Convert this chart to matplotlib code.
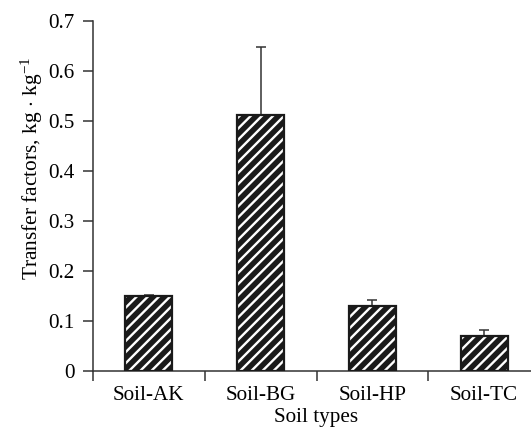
import numpy as np
import matplotlib
matplotlib.use("Agg")
from matplotlib import pyplot as plt
from matplotlib.ticker import FixedLocator, NullFormatter

soils = ["Soil-AK", "Soil-BG", "Soil-HP", "Soil-TC"]
tf_mean = [0.149, 0.512, 0.129, 0.070]
tf_err = [0.003, 0.135, 0.012, 0.012]
yticks = [0, 0.1, 0.2, 0.3, 0.4, 0.5, 0.6, 0.7]
ytick_labels = ["0", "0.1", "0.2", "0.3", "0.4", "0.5", "0.6", "0.7"]

plt.rcParams['font.family'] = ['Liberation Serif', 'DejaVu Serif']
plt.rcParams['mathtext.fontset'] = 'custom'
plt.rcParams['mathtext.rm'] = 'Liberation Serif'
plt.rcParams['mathtext.it'] = 'Liberation Serif:italic'
plt.rcParams['hatch.linewidth'] = 1.7

fig = plt.figure(figsize=(5.31, 4.28), dpi=100)
ax = fig.add_axes([93 / 531, 57.3 / 428, 447 / 531, 350 / 428])

x = np.arange(len(soils))
# black bars with white stripes, then a black outline on top
ax.bar(x, tf_mean, width=0.42, color="#1a1a1a", edgecolor="white",
       hatch="///", linewidth=0, zorder=2)
ax.bar(x, tf_mean, width=0.42, fill=False, edgecolor="#1a1a1a",
       linewidth=1.6, zorder=3)
ax.errorbar(x, tf_mean, yerr=[np.zeros(len(soils)), tf_err], fmt="none",
            ecolor="#333333", elinewidth=1.1, capsize=3.3, capthick=1.1,
            zorder=1)

ax.set_xlim(-0.5, 3.5)
ax.set_ylim(0, 0.7)
ax.set_yticks(yticks)
ax.set_yticklabels(ytick_labels)
ax.set_xticks(x)
ax.set_xticklabels(soils)
ax.xaxis.set_minor_locator(FixedLocator(np.arange(-0.5, 4.0, 1.0)))
ax.xaxis.set_minor_formatter(NullFormatter())

for s in ["top", "right"]:
    ax.spines[s].set_visible(False)
for s in ["left", "bottom"]:
    ax.spines[s].set_color("#333333")
    ax.spines[s].set_linewidth(1.1)

ax.tick_params(axis="x", which="major", length=0, pad=11, labelsize=15.2)
ax.tick_params(axis="x", which="minor", length=7, width=1.1,
               color="#333333", direction="out")
ax.tick_params(axis="y", length=7, width=1.1, color="#333333",
               direction="out", pad=6, labelsize=15.2)

ax.set_xlabel("Soil types", fontsize=15.2, labelpad=2)
ax.set_ylabel(r"Transfer factors, kg $\cdot$ kg$^{\mathregular{-1}}$",
              fontsize=15.4)
ax.yaxis.set_label_coords(-0.107, 0.578)

fig.savefig("out.png", dpi=100)
